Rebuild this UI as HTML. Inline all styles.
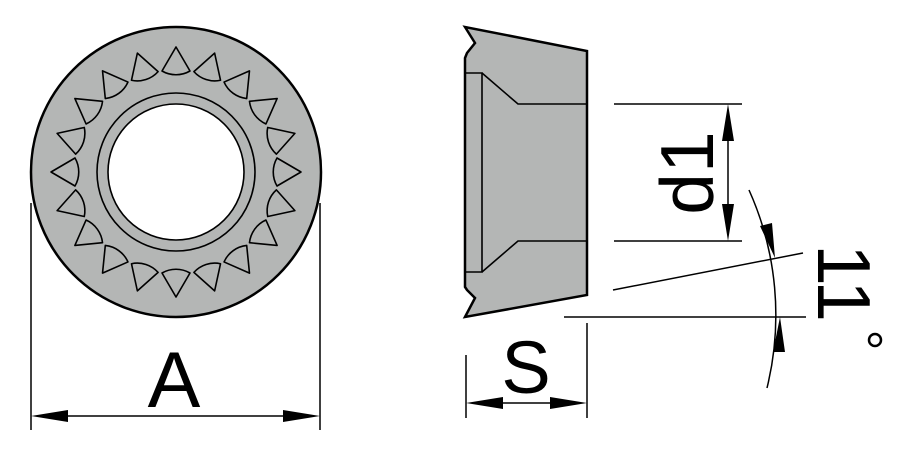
<!DOCTYPE html>
<html><head><style>html,body{margin:0;padding:0;background:#fff}svg{display:block}</style></head>
<body>
<svg width="912" height="455" viewBox="0 0 912 455" xmlns="http://www.w3.org/2000/svg" font-family="Liberation Sans, sans-serif">
<defs>
<g id="tooth"><path d="M0,-125 L-14,-101 A28,28 0 0 0 14,-101 Z" fill="none" stroke="#000" stroke-width="1.6" stroke-linejoin="round"/></g>
</defs>
<!-- front view -->
<circle cx="176" cy="172" r="145" fill="#b4b6b5" stroke="#000" stroke-width="2.5"/>
<circle cx="176" cy="172" r="79" fill="none" stroke="#000" stroke-width="1.6"/>
<circle cx="176" cy="172" r="68" fill="#fff" stroke="#000" stroke-width="1.6"/>
<g transform="translate(176,172)">
<use href="#tooth" transform="rotate(0)"/><use href="#tooth" transform="rotate(18)"/><use href="#tooth" transform="rotate(36)"/><use href="#tooth" transform="rotate(54)"/><use href="#tooth" transform="rotate(72)"/><use href="#tooth" transform="rotate(90)"/><use href="#tooth" transform="rotate(108)"/><use href="#tooth" transform="rotate(126)"/><use href="#tooth" transform="rotate(144)"/><use href="#tooth" transform="rotate(162)"/><use href="#tooth" transform="rotate(180)"/><use href="#tooth" transform="rotate(198)"/><use href="#tooth" transform="rotate(216)"/><use href="#tooth" transform="rotate(234)"/><use href="#tooth" transform="rotate(252)"/><use href="#tooth" transform="rotate(270)"/><use href="#tooth" transform="rotate(288)"/><use href="#tooth" transform="rotate(306)"/><use href="#tooth" transform="rotate(324)"/><use href="#tooth" transform="rotate(342)"/>
</g>
<!-- A dimension -->
<g stroke="#000" stroke-width="1.5">
<line x1="31" y1="203" x2="31" y2="430"/><line x1="320" y1="203" x2="320" y2="430"/>
<line x1="60" y1="416" x2="290" y2="416"/>
</g>
<path d="M31,416 L68,410 L68,422 Z M320,416 L283,410 L283,422 Z" fill="#000"/>
<text x="174" y="407" font-size="79" text-anchor="middle">A</text>
<!-- side view -->
<path d="M465,27 L475,43 L467,53 L465,58 L465,287 L467,290 L475,298 L465,317 L587,295 L587,51 Z" fill="#b4b6b5" stroke="#000" stroke-width="2.5" stroke-linejoin="miter"/>
<g stroke="#000" stroke-width="1.6" fill="none">
<path d="M465,73 L482,73 L482,272 L465,272"/>
<path d="M482,73 L518,104 L586,104 M482,272 L518,241 L586,241"/>
</g>
<!-- d1 -->
<g stroke="#000" stroke-width="1.5">
<line x1="614" y1="104" x2="742" y2="104"/><line x1="614" y1="241" x2="742" y2="241"/>
<line x1="728" y1="130" x2="728" y2="215"/>
</g>
<path d="M728,104 L722,141 L734,141 Z M728,241 L722,204 L734,204 Z" fill="#000"/>
<text transform="translate(713,173) rotate(-90)" font-size="75" text-anchor="middle">d1</text>
<!-- angle -->
<g stroke="#000" stroke-width="1.5" fill="none">
<line x1="613" y1="290" x2="803" y2="253"/>
<line x1="564" y1="317" x2="806" y2="317"/>
<path d="M749,190 A305,305 0 0 1 767,388"/>
</g>
<path d="M775,258 L760,226 L772,223 Z M780,317 L773,352 L785,352 Z" fill="#000"/>
<text transform="translate(818,283) rotate(90)" font-size="75" text-anchor="middle">11</text>
<circle cx="875" cy="340" r="6" fill="none" stroke="#000" stroke-width="2.5"/>
<!-- S -->
<g stroke="#000" stroke-width="1.5">
<line x1="466" y1="355" x2="466" y2="418"/><line x1="587" y1="323" x2="587" y2="418"/>
<line x1="490" y1="403" x2="560" y2="403"/>
</g>
<path d="M466,403 L503,397 L503,409 Z M587,403 L550,397 L550,409 Z" fill="#000"/>
<text x="526" y="393" font-size="74" text-anchor="middle">S</text>
</svg>
</body></html>
